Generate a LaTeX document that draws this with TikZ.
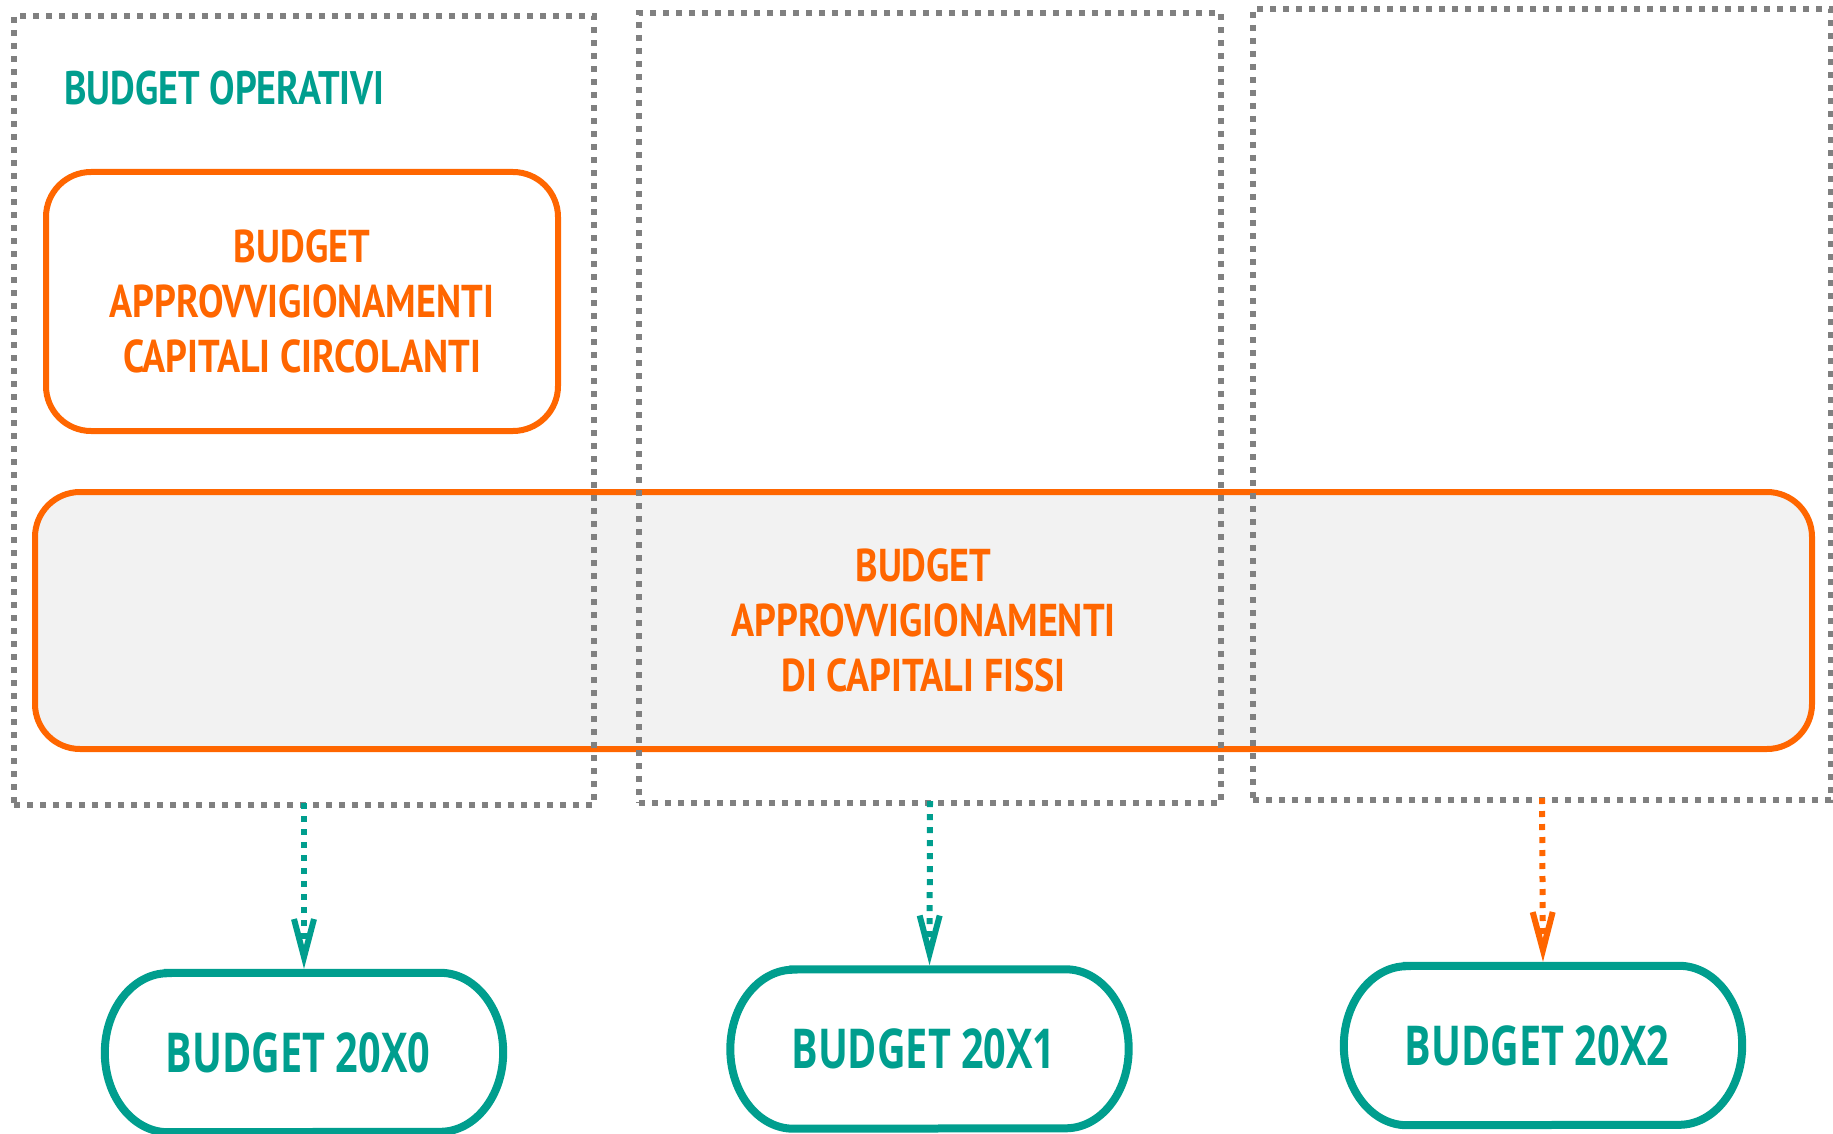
\documentclass[tikz,border=0pt]{standalone}
\usepackage{fontspec}
\usetikzlibrary{arrows.meta}
\newfontfamily\ptsn[FakeStretch=0.83]{PT Sans}
\newfontfamily\ptsh[FakeStretch=0.81]{PT Sans}
\newfontfamily\opsn[FakeStretch=0.72]{Open Sans}
\definecolor{tealc}{HTML}{009E8E}
\definecolor{orng}{HTML}{FF6600}
\definecolor{gryc}{HTML}{808080}
\definecolor{fillg}{HTML}{F2F2F2}
\begin{document}
\begin{tikzpicture}[x=1pt,y=-1pt,
  dotbox/.style={draw=gryc, line width=6pt, dash pattern=on 6pt off 7pt, inner sep=0pt},
  orbox/.style={draw=orng, line width=6pt, rounded corners=45pt, inner sep=0pt,
    text=orng, align=center, font=\ptsn\bfseries\fontsize{46}{55}\selectfont},
  yearnode/.style={inner sep=0pt, minimum width=398pt, minimum height=159pt,
    text=tealc, font=\opsn\bfseries\fontsize{55}{60}\selectfont},
  stadium/.style={draw=tealc, line width=8pt},
  tealarrow/.style={draw=tealc, line width=6pt, dash pattern=on 6pt off 7pt,
    -{Straight Barb[length=38pt,width=20pt]}, shorten >=4pt},
  orarrow/.style={draw=orng, line width=6pt, dash pattern=on 6pt off 7pt,
    -{Straight Barb[length=38pt,width=20pt]}, shorten >=4pt}
]
\useasboundingbox (0,0) rectangle (1833,1134);

% big box for fixed capitals
\node[orbox, fill=fillg, minimum width=1777pt, minimum height=257pt] (fixed) at (923.5,620.5)
  {BUDGET\\APPROVVIGIONAMENTI\\DI CAPITALI FISSI};

% dotted yearly boxes
\node[dotbox, minimum width=580pt, minimum height=789pt] (y0) at (304,410.5) {};
\node[dotbox, minimum width=582pt, minimum height=790pt] (y1) at (930,408) {};
\node[dotbox, minimum width=578pt, minimum height=791pt] (y2) at (1542,404.5) {};

% heading
\node[anchor=west, inner sep=0pt, text=tealc, font=\ptsh\bfseries\fontsize{47}{50}\selectfont] (oper) at (64,88) {BUDGET OPERATIVI};

% circulating capitals box
\node[orbox, minimum width=512pt, minimum height=259pt] (circ) at (302,301.5)
  {BUDGET\\APPROVVIGIONAMENTI\\CAPITALI CIRCOLANTI};

% yearly budget nodes
\node[yearnode] (b0) at (304,1052.5) {BUDGET 20X0\hspace*{12pt}};
\node[yearnode] (b1) at (929.5,1049) {BUDGET 20X1\hspace*{12pt}};
\node[yearnode] (b2) at (1543,1045.5) {BUDGET 20X2\hspace*{12pt}};
\foreach \n in {b0,b1,b2}{
  \draw[stadium] ([xshift=63pt]\n.north west) -- ([xshift=-63pt]\n.north east)
    arc[start angle=90, end angle=-90, x radius=63pt, y radius=79.5pt]
    -- ([xshift=63pt]\n.south west)
    arc[start angle=270, end angle=90, x radius=63pt, y radius=79.5pt] -- cycle;
}

% connectors
\draw[tealarrow] ([yshift=5pt]y0.south) -- (b0.north);
\draw[tealarrow] ([yshift=5pt]y1.south) -- (b1.north);
\draw[orarrow] ([yshift=5pt]y2.south) -- (b2.north);
\end{tikzpicture}
\end{document}
